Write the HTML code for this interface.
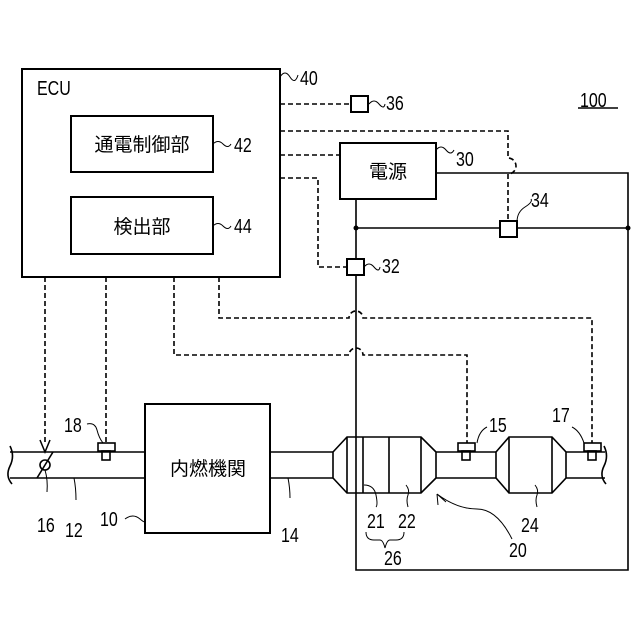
<!DOCTYPE html>
<html><head><meta charset="utf-8"><style>body{margin:0;background:#fff}svg{display:block}text{font-family:"Liberation Sans","Noto Sans CJK JP",sans-serif;fill:#000}.n{font-size:20px}.j{font-size:19px}</style></head><body>
<svg width="640" height="640" viewBox="0 0 640 640" xmlns="http://www.w3.org/2000/svg">
<g fill="none" stroke="#000" stroke-width="2">
<rect x="22" y="69" width="258" height="208"/>
<rect x="71" y="116" width="142" height="56"/>
<rect x="71" y="197" width="142" height="57"/>
<rect x="340" y="143" width="96" height="56"/>
<rect x="351" y="96" width="17" height="16"/>
<rect x="500" y="221" width="17" height="16"/>
<rect x="347" y="259" width="17" height="16"/>
<rect x="145" y="404" width="125" height="129"/>
</g>
<g fill="none" stroke="#000" stroke-width="1.6">
<path d="M356 199V259M356 275V570H628V173H436M356 228H500M517 228H628"/>
<path d="M10 452H145M10 478H145M270 452H333M270 478H333"/>
<path d="M10 446q5 10 0 20q-5 10 2 18"/>
<path d="M333 452V478M333 452L347 437H421L436 452V478L421 493H347L333 478M347 437V493M363 437V493M389 437V493M421 437V493M436 452H496M436 478H496"/>
<path d="M496 452V478M496 452L509 437H552L566 452V478L552 493H509L496 478M509 437V493M552 437V493M566 452H605M566 478H605"/>
<path d="M604 446q5 10 0 20q-5 10 2 18"/>
<circle cx="45" cy="465" r="5"/><path d="M37 478L53 452"/>
<rect x="98" y="443" width="17" height="8" fill="#fff"/><rect x="102" y="451" width="8" height="9"/>
<rect x="458" y="443" width="17" height="8" fill="#fff"/><rect x="462" y="451" width="8" height="9"/>
<rect x="584" y="443" width="17" height="8" fill="#fff"/><rect x="588" y="451" width="8" height="9"/>
</g>
<circle cx="356" cy="228" r="2.5"/><circle cx="628" cy="228" r="2.5"/>
<g fill="none" stroke="#000" stroke-width="1.6" stroke-dasharray="5,3">
<path d="M280 104H351"/>
<path d="M280 131H508V158a8 8 0 0 1 0 16V221"/>
<path d="M280 155H340"/>
<path d="M280 178H318V267H347"/>
<path d="M45 277V445"/>
<path d="M106 277V443"/>
<path d="M174 277V355H349a7 7 0 0 1 14 0H467V443"/>
<path d="M219 277V318H349a7 7 0 0 1 14 0H592V443"/>
</g>
<path d="M40 440L45 452L50 440" fill="none" stroke="#000" stroke-width="1.5"/>
<g fill="none" stroke="#000" stroke-width="1">
<path d="M280 77q5-8 10 0t8-2"/><path d="M213 144q5-5 10 0t8 0"/><path d="M213 226q5-5 10 0t8 0"/>
<path d="M436 150q5-6 10 0t8 0"/><path d="M369 104q5-6 10 0t6 0"/><path d="M364 267q5-6 10 0t6 0"/>
<path d="M517 222q0-10 8-15t6-8"/>
<path d="M87 424q8-2 10 6t6 13"/><path d="M477 443q2-12 10-16"/><path d="M584 443q-4-12-12-16"/>
<path d="M45 470q3 10 2 22"/><path d="M74 478q2 10 2 22"/><path d="M125 519q8-6 15 0t5 0"/>
<path d="M288 478q2 10 2 20"/><path d="M364 485q10 0 12 10t0 12"/><path d="M406 485q4 5 2 10t0 12"/><path d="M535 485q4 5 2 10t0 12"/>
<path d="M437 494L446 502M437 494L438 505M437 494q20 15 40 15q20 0 35 30"/>
<path d="M366 532q0 8 8 8h6q3 0 5 8q2-8 5-8h6q8 0 8-8"/>
</g>
<path d="M578 108H618" stroke="#000" stroke-width="1.5"/>
<g class="j">
<text transform="translate(37 95) scale(.8 1)" style="font-size:20px">ECU</text>
<text x="142" y="151" text-anchor="middle">通電制御部</text>
<text x="142" y="233" text-anchor="middle">検出部</text>
<text x="388" y="178" text-anchor="middle">電源</text>
<text x="208" y="475" text-anchor="middle">内燃機関</text>
</g>
<g class="n">
<text transform="translate(300 85) scale(.8 1)">40</text>
<text transform="translate(234 152) scale(.8 1)">42</text>
<text transform="translate(234 233) scale(.8 1)">44</text>
<text transform="translate(456 166) scale(.8 1)">30</text>
<text transform="translate(386 110) scale(.8 1)">36</text>
<text transform="translate(531 207) scale(.8 1)">34</text>
<text transform="translate(382 273) scale(.8 1)">32</text>
<text transform="translate(580 107) scale(.8 1)">100</text>
<text transform="translate(64 432) scale(.8 1)">18</text>
<text transform="translate(489 432) scale(.8 1)">15</text>
<text transform="translate(552 422) scale(.8 1)">17</text>
<text transform="translate(37 532) scale(.8 1)">16</text>
<text transform="translate(65 537) scale(.8 1)">12</text>
<text transform="translate(100 526) scale(.8 1)">10</text>
<text transform="translate(281 542) scale(.8 1)">14</text>
<text transform="translate(367 528) scale(.8 1)">21</text>
<text transform="translate(398 528) scale(.8 1)">22</text>
<text transform="translate(384 565) scale(.8 1)">26</text>
<text transform="translate(509 557) scale(.8 1)">20</text>
<text transform="translate(521 532) scale(.8 1)">24</text>
</g>
</svg></body></html>
